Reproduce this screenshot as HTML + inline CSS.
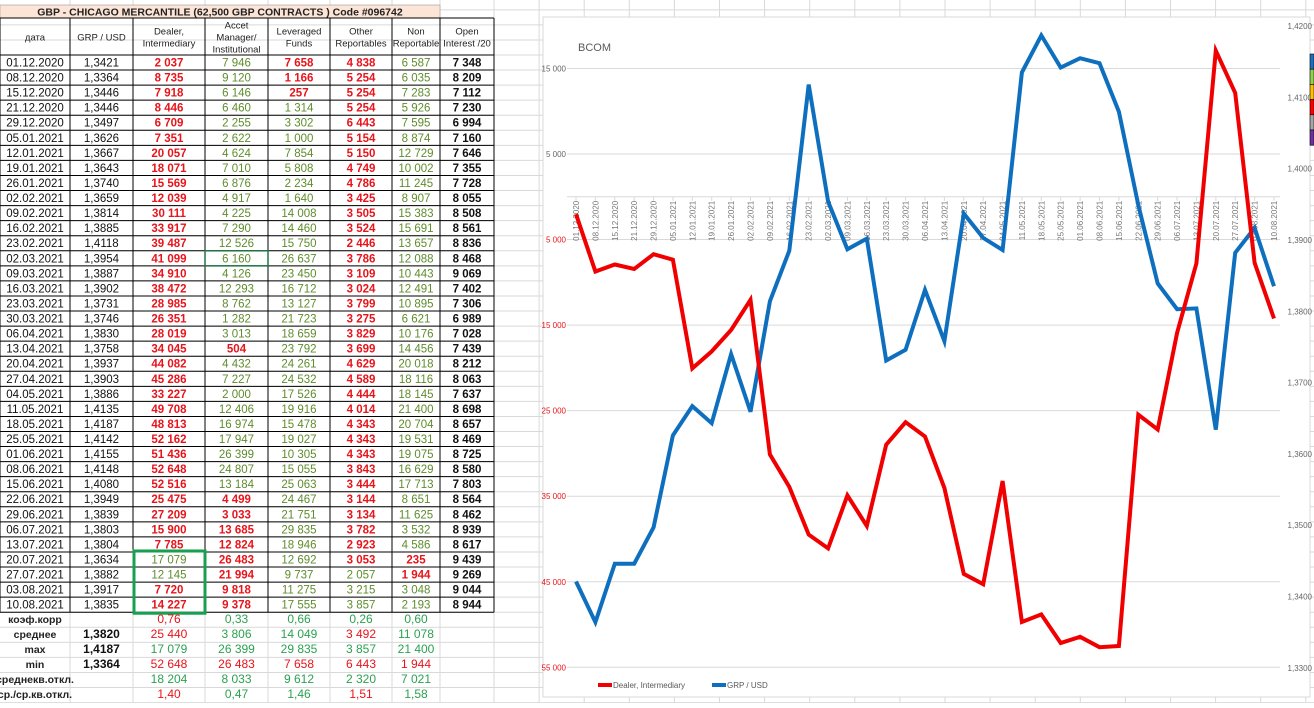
<!DOCTYPE html>
<html><head><meta charset="utf-8">
<style>
html,body{margin:0;padding:0;background:#fff;}
body{width:1314px;height:703px;overflow:hidden;font-family:"Liberation Sans","DejaVu Sans",sans-serif;}
svg text{font-family:"Liberation Sans","DejaVu Sans",sans-serif;}
</style></head>
<body>
<svg id="root" width="1314" height="703" xmlns="http://www.w3.org/2000/svg">
  <g id="grid"></g>
  <g id="table"></g>
  <g id="chart"></g>
</svg>
<script>
// ---- chart / table data ----
const dates = ["01.12.2020","08.12.2020","15.12.2020","21.12.2020","29.12.2020","05.01.2021","12.01.2021","19.01.2021","26.01.2021","02.02.2021","09.02.2021","16.02.2021","23.02.2021","02.03.2021","09.03.2021","16.03.2021","23.03.2021","30.03.2021","06.04.2021","13.04.2021","20.04.2021","27.04.2021","04.05.2021","11.05.2021","18.05.2021","25.05.2021","01.06.2021","08.06.2021","15.06.2021","22.06.2021","29.06.2021","06.07.2021","13.07.2021","20.07.2021","27.07.2021","03.08.2021","10.08.2021"];
const grpUsd = [1.3421,1.3364,1.3446,1.3446,1.3497,1.3626,1.3667,1.3643,1.3740,1.3659,1.3814,1.3885,1.4118,1.3954,1.3887,1.3902,1.3731,1.3746,1.3830,1.3758,1.3937,1.3903,1.3886,1.4135,1.4187,1.4142,1.4155,1.4148,1.4080,1.3949,1.3839,1.3803,1.3804,1.3634,1.3882,1.3917,1.3835];
const dealer = [-2037,-8735,-7918,-8446,-6709,-7351,-20057,-18071,-15569,-12039,-30111,-33917,-39487,-41099,-34910,-38472,-28985,-26351,-28019,-34045,-44082,-45286,-33227,-49708,-48813,-52162,-51436,-52648,-52516,-25475,-27209,-15900,-7785,17079,12145,-7720,-14227];
const accet = [7946,9120,6146,6460,2255,2622,4624,7010,6876,4917,4225,7290,12526,6160,4126,12293,8762,1282,3013,-504,4432,7227,2000,12406,16974,17947,26399,24807,13184,-4499,-3033,-13685,-12824,-26483,-21994,-9818,-9378];
const leveraged = [-7658,-1166,-257,1314,3302,1000,7854,5808,2234,1640,14008,14460,15750,26637,23450,16712,13127,21723,18659,23792,24261,24532,17526,19916,15478,19027,10305,15055,25063,24467,21751,29835,18946,12692,9737,11275,17555];
const otherRep = [-4838,-5254,-5254,-5254,-6443,-5154,-5150,-4749,-4786,-3425,-3505,-3524,-2446,-3786,-3109,-3024,-3799,-3275,-3829,-3699,-4629,-4589,-4444,-4014,-4343,-4343,-4343,-3843,-3444,-3144,-3134,-3782,-2923,-3053,2057,3215,3857];
const nonRep = [6587,6035,7283,5926,7595,8874,12729,10002,11245,8907,15383,15691,13657,12088,10443,12491,10895,6621,10176,14456,20018,18116,18145,21400,20704,19531,19075,16629,17713,8651,11625,3532,4586,-235,-1944,3048,2193];
const openInt = [7348,8209,7112,7230,6994,7160,7646,7355,7728,8055,8508,8561,8836,8468,9069,7402,7306,6989,7028,7439,8212,8063,7637,8698,8657,8469,8725,8580,7803,8564,8462,8939,8617,9439,9269,9044,8944];
const leftTicks = [15000,5000,-5000,-15000,-25000,-35000,-45000,-55000];
const rightTicks = [1.42,1.41,1.40,1.39,1.38,1.37,1.36,1.35,1.34,1.33];
const statLabels = ["коэф.корр","среднее","max","min","среднекв.откл.","ср./ср.кв.откл."];
const statGrp = ["","1,3820","1,4187","1,3364","",""];
const statVals = [
 [["0,76",1],["0,33",0],["0,66",0],["0,26",0],["0,60",0]],
 [["25 440",1],["3 806",0],["14 049",0],["3 492",1],["11 078",0]],
 [["17 079",0],["26 399",0],["29 835",0],["3 857",0],["21 400",0]],
 [["52 648",1],["26 483",1],["7 658",1],["6 443",1],["1 944",1]],
 [["18 204",0],["8 033",0],["9 612",0],["2 320",0],["7 021",0]],
 [["1,40",1],["0,47",0],["1,46",0],["1,51",1],["1,58",0]]
];

const NS="http://www.w3.org/2000/svg";
function mk(parent,tag,attrs,txt){const e=document.createElementNS(NS,tag);for(const k in attrs)e.setAttribute(k,attrs[k]);if(txt!==undefined)e.textContent=txt;parent.appendChild(e);return e;}
function fmt(n){const s=Math.abs(n).toString();return s.replace(/\B(?=(\d{3})+(?!\d))/g," ");}
const RED="#e8141b", OLIVE="#5e8c2c", GREEN2="#2aa24f";

// ---- sheet gridlines ----
const grid=document.getElementById('grid');
for(let x=494;x<1314;x+=45.1){mk(grid,'line',{x1:x,y1:0,x2:x,y2:703,stroke:'#d9d9d9','stroke-width':1});}
for(let y=55-15.06*3;y<703;y+=15.06){mk(grid,'line',{x1:0,y1:y,x2:1314,y2:y,stroke:'#d9d9d9','stroke-width':1});}
[70,133,205,268,330,392,440].forEach(x=>mk(grid,'line',{x1:x,y1:0,x2:x,y2:703,stroke:'#d9d9d9'}));

// ---- table ----
const T=document.getElementById('table');
const colX=[0,70,133,205,268,330,392,440,494];
const cx=i=>(colX[i]+colX[i+1])/2;
const title=mk(T,'rect',{x:0,y:5,width:440,height:13,fill:'#fce4d6',stroke:'#999','stroke-width':0.6});


mk(T,'text',{x:220,y:15.5,'text-anchor':'middle','font-size':10.5,'font-weight':'bold',fill:'#222'},"GBP - CHICAGO MERCANTILE  (62,500 GBP CONTRACTS ) Code #096742");
const heads=[["дата"],["GRP / USD"],["Dealer,","Intermediary"],["Accet","Manager/","Institutional"],["Leveraged","Funds"],["Other","Reportables"],["Non","Reportable"],["Open","Interest /20"]];
heads.forEach((h,i)=>{
  const g=mk(T,'g',{});
  
  
  const n=h.length, lh=12, y0=37-(n-1)*lh/2+3.5;
  h.forEach((t,j)=>mk(g,'text',{x:cx(i),y:y0+j*lh,'text-anchor':'middle','font-size':9.5,fill:'#222'},t));
});
const rowH=15.06, topY=55;
const cols=[dealer,accet,leveraged,otherRep,nonRep];
dates.forEach((d,r)=>{
  const y=topY+r*rowH, ty=y+11.5;
  const g=mk(T,'g',{});
  
  
  mk(g,'text',{x:cx(0),y:ty,'text-anchor':'middle','font-size':11.5,fill:'#111'},d);
  mk(g,'text',{x:cx(1),y:ty,'text-anchor':'middle','font-size':11.5,fill:'#111'},grpUsd[r].toFixed(4).replace('.',','));
  cols.forEach((arr,c)=>{const v=arr[r];const neg=v<0;
    mk(g,'text',{x:cx(c+2),y:ty,'text-anchor':'middle','font-size':11.5,'font-weight':neg?'bold':'normal',fill:neg?RED:OLIVE},fmt(v));});
  mk(g,'text',{x:cx(7),y:ty,'text-anchor':'middle','font-size':11.5,'font-weight':'bold',fill:'#111'},fmt(openInt[r]));
});
const bottomY=topY+dates.length*rowH;
for(let r=0;r<=dates.length;r++){const y=topY+r*rowH;mk(T,'line',{x1:0,y1:y,x2:494,y2:y,stroke:'#000','stroke-width':1});}
mk(T,'line',{x1:0,y1:18,x2:494,y2:18,stroke:'#000'});
colX.forEach(x=>mk(T,'line',{x1:x,y1:18,x2:x,y2:bottomY,stroke:'#000'}));
const gb=mk(T,'rect',{x:134,y:topY+33*rowH-1,width:71,height:4*rowH+2,fill:'none',stroke:'#17a050','stroke-width':3});


const sel=mk(T,'rect',{x:205,y:topY+13*rowH,width:63,height:rowH,fill:'none',stroke:'#217346','stroke-width':1.5});


statLabels.forEach((lab,i)=>{
  const y=bottomY+i*15+11;
  const g=mk(T,'g',{});
  
  
  mk(g,'text',{x:cx(0),y:y,'text-anchor':'middle','font-size':10.5,'font-weight':'bold',fill:'#222'},lab);
  if(statGrp[i])mk(g,'text',{x:cx(1),y:y,'text-anchor':'middle','font-size':12,'font-weight':'bold',fill:'#111'},statGrp[i]);
  statVals[i].forEach((sv,c)=>mk(g,'text',{x:cx(c+2),y:y,'text-anchor':'middle','font-size':12,fill:sv[1]?RED:GREEN2},sv[0]));
});

// ---- chart ----
const C=document.getElementById('chart');
mk(C,'rect',{x:543,y:17,width:767,height:680,fill:'#fff',stroke:'#d9d9d9'});
const x0=576, x1=1274;
const xs=i=>x0+i*(x1-x0)/(dates.length-1);
const yL=v=>154+(5000-v)*0.008555;
const yR=v=>240+(1.39-v)*7130;
leftTicks.forEach(t=>{
  const y=yL(t);
  const gl=mk(C,'line',{x1:567,y1:y,x2:1280,y2:y,stroke:'#d9d9d9'});
  
  
  const lb=mk(C,'text',{x:566,y:y+3,'text-anchor':'end','font-size':8,fill:t<0?RED:'#666'},fmt(t));
  
  
});
rightTicks.forEach(t=>{
  const lb=mk(C,'text',{x:1312,y:yR(t)+3,'text-anchor':'end','font-size':8,fill:'#666'},t.toFixed(4).replace('.',','));
  
  
});
const ax=mk(C,'line',{x1:567,y1:yL(0),x2:1280,y2:yL(0),stroke:'#d9d9d9'});


dates.forEach((d,i)=>{
  const x=xs(i), y=yL(0)+4;
  mk(C,'line',{x1:x,y1:yL(0),x2:x,y2:yL(0)+4,stroke:'#d9d9d9'});
  const t=mk(C,'text',{x:x+3,y:y,'text-anchor':'end','font-size':8,fill:'#777',transform:`rotate(-90 ${x+3} ${y})`},d);
  
  
});
const bt=mk(C,'text',{x:578,y:51,'font-size':11,fill:'#595959'},"BCOM");


const dP=dealer.map((v,i)=>xs(i).toFixed(1)+','+yL(v).toFixed(1)).join(' ');
const gP=grpUsd.map((v,i)=>xs(i).toFixed(1)+','+yR(v).toFixed(1)).join(' ');
const blue=mk(C,'polyline',{points:gP,fill:'none',stroke:'#0f6fbf','stroke-width':4,'stroke-linejoin':'miter'});


const red=mk(C,'polyline',{points:dP,fill:'none',stroke:'#f00000','stroke-width':4,'stroke-linejoin':'miter'});


const lg=mk(C,'g',{});


const le1=mk(lg,'g',{});


mk(le1,'line',{x1:598,y1:685,x2:612,y2:685,stroke:'#f00000','stroke-width':4});
mk(le1,'text',{x:613,y:688,'font-size':8,fill:'#595959'},"Dealer, Intermediary");
const le2=mk(lg,'g',{});


mk(le2,'line',{x1:712,y1:685,x2:726,y2:685,stroke:'#0f6fbf','stroke-width':4});
mk(le2,'text',{x:727,y:688,'font-size':8,fill:'#595959'},"GRP / USD");
["#1f6fbf","#92d050","#ffc000","#ff0000","#a6a6a6","#7030a0"].forEach((c,i)=>{
  const r=mk(C,'rect',{x:1310,y:54+i*15.2,width:4,height:15.2,fill:c,stroke:'#000','stroke-width':0.6});
  
  
});
</script>
</body></html>
